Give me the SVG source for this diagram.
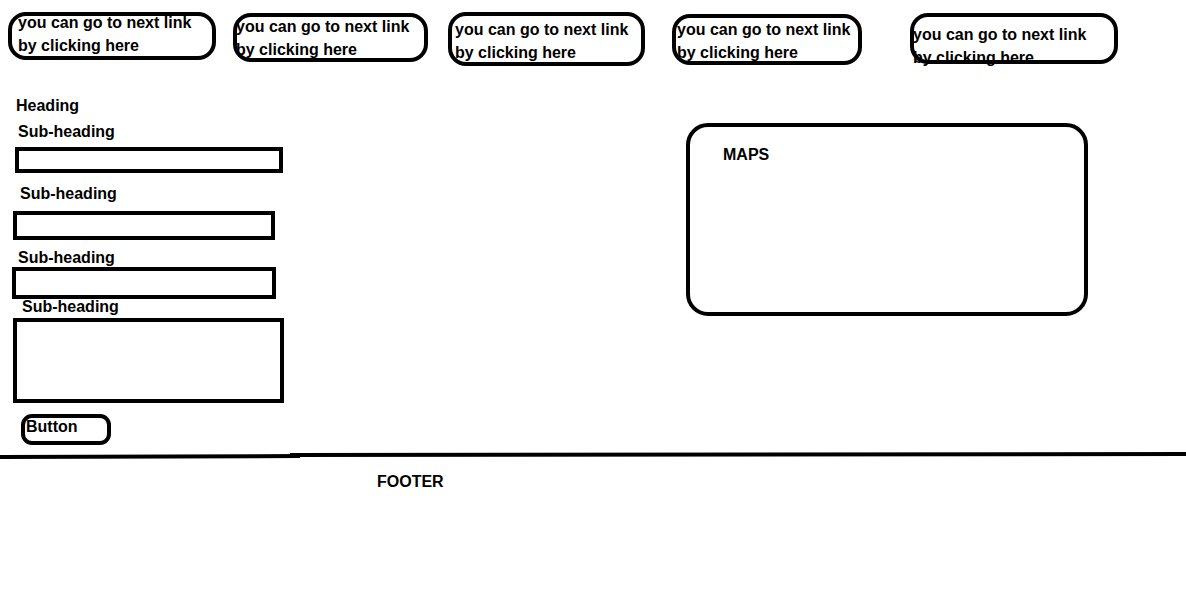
<svg xmlns="http://www.w3.org/2000/svg" width="1186" height="604" viewBox="0 0 1186 604">
<style>
text{font-family:"Liberation Sans",Arial,sans-serif;font-weight:bold;font-size:16px;fill:#000}
.b{fill:none;stroke:#000;stroke-width:4}
</style>
<rect width="1186" height="604" fill="#fff"/>
<g id="link1"><text x="18" y="28">you can go to next link</text><text x="18" y="51">by clicking here</text><rect class="b" x="10" y="14" width="204" height="44" rx="16"/></g>
<g id="link2"><text x="236" y="32">you can go to next link</text><text x="236" y="55">by clicking here</text><rect class="b" x="235" y="15" width="191" height="45" rx="16"/></g>
<g id="link3"><text x="455" y="35">you can go to next link</text><text x="455" y="58">by clicking here</text><rect class="b" x="450" y="14" width="193" height="50" rx="16"/></g>
<g id="link4"><text x="677" y="35">you can go to next link</text><text x="677" y="58">by clicking here</text><rect class="b" x="674" y="16" width="186" height="47" rx="16"/></g>
<g id="link5"><text x="913" y="40">you can go to next link</text><text x="913" y="63">by clicking here</text><rect class="b" x="912" y="15" width="204" height="47" rx="16"/></g>
<g id="heading"><text x="16" y="111">Heading</text></g>
<g id="field1"><text x="18" y="137">Sub-heading</text><rect class="b" x="17" y="149" width="264" height="22"/></g>
<g id="field2"><text x="20" y="199">Sub-heading</text><rect class="b" x="15" y="213" width="258" height="25"/></g>
<g id="field3"><text x="18" y="263">Sub-heading</text><rect class="b" x="14" y="269" width="260" height="28"/></g>
<g id="field4"><text x="22" y="312">Sub-heading</text><rect class="b" x="15" y="320" width="267" height="81"/></g>
<g id="button"><rect class="b" x="23" y="416" width="86" height="27" rx="9"/><text x="26" y="432">Button</text></g>
<g id="maps"><rect class="b" x="688" y="125" width="398" height="189" rx="20"/><text x="723" y="160">MAPS</text></g>
<g id="connectors">
<line x1="0" y1="457" x2="300" y2="456" stroke="#000" stroke-width="4"/>
<line x1="290" y1="455" x2="1186" y2="454" stroke="#000" stroke-width="4"/>
</g>
<g id="footer"><text x="377" y="487">FOOTER</text></g>
</svg>
